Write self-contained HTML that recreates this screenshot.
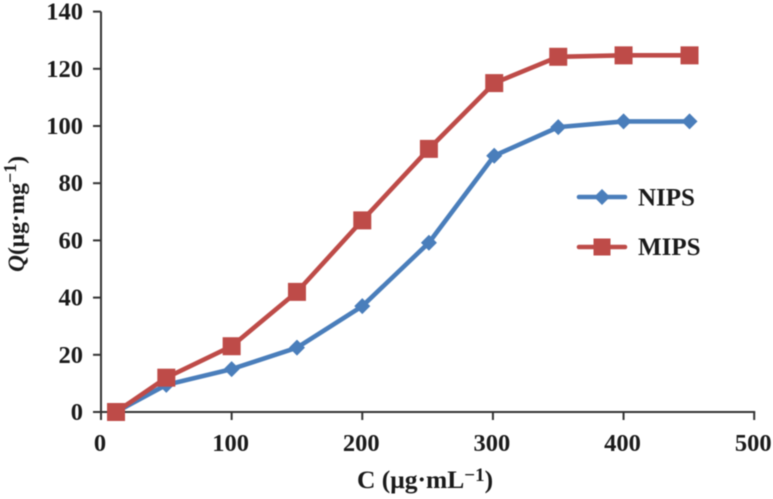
<!DOCTYPE html>
<html>
<head>
<meta charset="utf-8">
<style>
html,body{margin:0;padding:0;background:#fff;}
svg{display:block;}
text{font-family:"Liberation Serif",serif;fill:#1a1a1a;font-weight:bold;}
</style>
</head>
<body>
<svg id="chart" width="773" height="499" viewBox="0 0 773 499" xmlns="http://www.w3.org/2000/svg">
<g id="root" style="filter:blur(0.55px)"></g>
</svg>
<script>
const xValues = [11.5, 50, 100, 150, 200, 251, 301, 350, 400, 450.5];
const nipsValues = [0, 9.5, 15, 22.5, 37, 59.2, 89.6, 99.6, 101.6, 101.6];
const mipsValues = [0, 12, 23, 42, 67, 92, 115, 124.2, 124.7, 124.7];
const xTicks = [0, 100, 200, 300, 400, 500];
const yTicks = [0, 20, 40, 60, 80, 100, 120, 140];
const seriesNames = ['NIPS', 'MIPS'];

const NS = 'http://www.w3.org/2000/svg';
const root = document.getElementById('root');
const sx = v => 101 + v * 1.3064;
const sy = v => 412 - v * 2.86;
function mk(tag, attrs, parent, txt) {
  const el = document.createElementNS(NS, tag);
  for (const k in attrs) el.setAttribute(k, attrs[k]);
  if (txt !== undefined) el.textContent = txt;
  (parent || root).appendChild(el);
  return el;
}
const AXIS = '#333';

const yAxis = mk('line', {x1: sx(0), x2: sx(0), y1: sy(140), y2: sy(0) + 8, stroke: AXIS, 'stroke-width': 2});


const xAxis = mk('line', {x1: sx(0) - 8, x2: sx(500) + 1, y1: sy(0), y2: sy(0), stroke: AXIS, 'stroke-width': 2});



yTicks.forEach(t => {
  const tick = mk('line', {x1: sx(0) - 8, x2: sx(0), y1: sy(t), y2: sy(t), stroke: AXIS, 'stroke-width': 2});
  
  
  const label = mk('text', {x: 83, y: sy(t) + 8, 'text-anchor': 'end', 'font-size': 24.5}, root, t);
  
  
});
xTicks.forEach(t => {
  const tick = mk('line', {x1: sx(t), x2: sx(t), y1: sy(0), y2: sy(0) + 8, stroke: AXIS, 'stroke-width': 2});
  
  
  const label = mk('text', {x: sx(t) - 1, y: 451, 'text-anchor': 'middle', 'font-size': 24.5}, root, t);
  
  
});

function linePoints(values) {
  return values.map((v, i) => sx(xValues[i]) + ',' + sy(v)).join(' ');
}
function diamond(cx, cy, r, fill, parent) {
  return mk('polygon', {points: [cx, cy - r, cx + r, cy, cx, cy + r, cx - r, cy].join(','), fill: fill}, parent);
}
function square(cx, cy, h, fill, parent) {
  return mk('rect', {x: cx - h, y: cy - h, width: 2 * h, height: 2 * h, fill: fill}, parent);
}

const BLUE = '#4a7ebb';
const RED = '#be4b48';

const nipsGroup = mk('g', {});


mk('polyline', {points: linePoints(nipsValues), fill: 'none', stroke: BLUE, 'stroke-width': 4.6, 'stroke-linejoin': 'round', 'stroke-linecap': 'round'}, nipsGroup);
nipsValues.forEach((v, i) => {
  const m = diamond(sx(xValues[i]), sy(v), 8, BLUE, nipsGroup);
  
  
});

const mipsGroup = mk('g', {});


mk('polyline', {points: linePoints(mipsValues), fill: 'none', stroke: RED, 'stroke-width': 4.6, 'stroke-linejoin': 'round', 'stroke-linecap': 'round'}, mipsGroup);
mipsValues.forEach((v, i) => {
  const m = square(sx(xValues[i]), sy(v), 9, RED, mipsGroup);
  
  
});

const legend = mk('g', {});


const legendNips = mk('g', {}, legend);


mk('line', {x1: 579, x2: 625, y1: 197, y2: 197, stroke: BLUE, 'stroke-width': 4.6, 'stroke-linecap': 'round'}, legendNips);
diamond(602, 197, 8, BLUE, legendNips);
mk('text', {x: 638, y: 205.5, 'font-size': 25}, legendNips, seriesNames[0]);
const legendMips = mk('g', {}, legend);


mk('line', {x1: 579, x2: 625, y1: 247, y2: 247, stroke: RED, 'stroke-width': 4.6, 'stroke-linecap': 'round'}, legendMips);
square(602, 247, 8.5, RED, legendMips);
mk('text', {x: 638, y: 255, 'font-size': 25}, legendMips, seriesNames[1]);

const yTitle = mk('text', {transform: 'translate(24,272) rotate(-90)', 'font-size': 23.5});


mk('tspan', {'font-style': 'italic'}, yTitle, 'Q');
mk('tspan', {}, yTitle, '(μg·mg');
mk('tspan', {dy: -8, 'font-size': 18}, yTitle, '−1');
mk('tspan', {dy: 8}, yTitle, ')');

const xTitle = mk('text', {x: 357, y: 488, 'font-size': 25.5});


mk('tspan', {}, xTitle, 'C (μg·mL');
mk('tspan', {dy: -7, 'font-size': 19}, xTitle, '−1');
mk('tspan', {dy: 7}, xTitle, ')');
</script>
</body>
</html>
